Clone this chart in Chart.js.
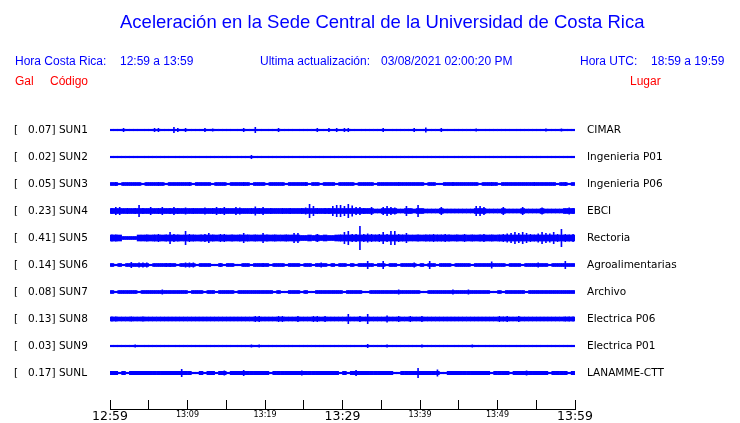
<!DOCTYPE html>
<html>
<head>
<meta charset="utf-8">
<script src="https://cdn.jsdelivr.net/npm/chart.js@4.4.1/dist/chart.umd.min.js"></script>
<style>
  body { margin: 0; background: #fff; }
  #wrap { position: relative; width: 740px; height: 423px; overflow: hidden; }
  #wrap canvas { position: absolute; left: 0; top: 0; }
  .t {
    position: absolute;
    font-family: 'Liberation Sans', Arial, sans-serif;
    font-size: 12px;
    line-height: 12px;
    color: #0000ff;
    white-space: pre;
  }
  .red { color: #ff0000; }
  #title { font-size: 18.5px; line-height: 18.5px; left: 120px; top: 13px; }
</style>
</head>
<body>
<div id="wrap">
  <canvas id="chart" width="740" height="423"></canvas>
  <div class="t" id="title">Aceleración en la Sede Central de la Universidad de Costa Rica</div>
  <div class="t" style="left:15px;top:55px">Hora Costa Rica:</div>
  <div class="t" style="left:120px;top:55px">12:59 a 13:59</div>
  <div class="t" style="left:260px;top:55px">Ultima actualización:</div>
  <div class="t" style="left:381px;top:55px">03/08/2021 02:00:20 PM</div>
  <div class="t" style="left:580px;top:55px">Hora UTC:</div>
  <div class="t" style="left:651px;top:55px">18:59 a 19:59</div>
  <div class="t red" style="left:15px;top:75px">Gal</div>
  <div class="t red" style="left:50px;top:75px">Código</div>
  <div class="t red" style="left:630px;top:75px">Lugar</div>
</div>
<script>
// peak acceleration (gal), station codes and places
const peaks = [0.07, 0.02, 0.05, 0.23, 0.41, 0.14, 0.08, 0.13, 0.03, 0.17];
const codes = ['SUN1', 'SUN2', 'SUN3', 'SUN4', 'SUN5', 'SUN6', 'SUN7', 'SUN8', 'SUN9', 'SUNL'];
const places = ['CIMAR', 'Ingenieria P01', 'Ingenieria P06', 'EBCI', 'Rectoria',
  'Agroalimentarias', 'Archivo', 'Electrica P06', 'Electrica P01', 'LANAMME-CTT'];
const timeLabels = ['12:59', '13:09', '13:19', '13:29', '13:39', '13:49', '13:59'];

// usual (background) half-height of each trace
const bandHalf = [0.75, 0.75, 1.5, 2.5, 3, 1.5, 1.5, 2, 0.75, 1.7];

// half-height of each trace for every 30 s window (12:59 -> 13:59)
const sun1 = [
  .75,.75,.75,2,.75,.75,.75,.75,.75,.75,.75,2,2,.75,.75,.75,3,2,.75,2,
  .75,.75,.75,.75,2,.75,1.5,.75,.75,.75,.75,.75,.75,.75,2,.75,.75,3,.75,.75,
  .75,.75,.75,2,.75,.75,.75,.75,.75,.75,.75,.75,.75,2,.75,.75,2,.75,2,.75,
  2,2,.75,.75,.75,.75,.75,.75,.75,.75,2,.75,.75,.75,.75,.75,.75,.75,2,.75,
  .75,2.5,.75,.75,.75,2,.75,.75,.75,.75,.75,.75,.75,.75,1.5,.75,.75,.75,.75,.75,
  .75,.75,.75,.75,.75,.75,.75,.75,.75,.75,.75,.75,1.5,.75,.75,.75,1.5,.75,.75,.75
];
const sun2 = [
  .75,.75,.75,.75,.75,.75,.75,.75,.75,.75,.75,.75,.75,.75,.75,.75,.75,.75,.75,.75,
  .75,.75,.75,.75,.75,.75,.75,.75,.75,.75,.75,.75,.75,.75,.75,.75,2,.75,.75,.75,
  .75,.75,.75,.75,.75,.75,.75,.75,.75,.75,.75,.75,.75,.75,.75,.75,.75,.75,.75,.75,
  .75,.75,.75,.75,.75,.75,.75,.75,.75,.75,.75,.75,.75,.75,.75,.75,.75,.75,.75,.75,
  .75,.75,.75,.75,.75,.75,.75,.75,.75,.75,.75,.75,.75,.75,.75,.75,.75,.75,.75,.75,
  .75,.75,.75,.75,.75,.75,.75,.75,.75,.75,.75,.75,.75,.75,.75,.75,.75,.75,.75,.75
];
const sun3 = [
  1.5,2,.75,1.5,1.5,1.5,1.5,1.5,.75,1.5,1.5,1.5,2,1.5,.75,1.5,1.5,1.5,1.5,1.5,
  2,.75,1.5,1.5,1.5,1.5,.75,1.5,1.5,1.5,.75,1.5,1.5,1.5,2,1.5,.75,1.5,1.5,1.5,
  .75,1.5,1.5,1.5,1.5,.75,1.5,1.5,1.5,1.5,2,.75,1.5,1.5,.75,1.5,1.5,1.5,.75,1.5,
  1.5,1.5,1.5,.75,1.5,1.5,1.5,1.5,.75,1.5,1.5,1.5,1.5,1.5,2,1.5,1.5,1.5,1.5,1.5,
  1.5,.75,1.5,1.5,.75,.75,1.5,1.5,2,1.5,1.5,1.5,1.5,1.5,1.5,.75,1.5,1.5,2,1.5,
  .75,1.5,1.5,1.5,1.5,1.5,1.5,1.5,1.5,2,1.5,1.5,1.5,1.5,1.5,.75,1.5,2,.75,1.5
];
const sun4 = [
  3,4,4,2.5,3,2.5,3,6,3,2.5,4,2.5,3,4,2.5,3,4,3,2.5,3.5,
  2.5,3,2.5,2.5,3.5,2.5,3,4,3,4,2.5,2.5,4,3.5,2.5,2.5,3,4.5,3,4,
  2.5,3,2.5,2.5,3,2.5,3,2.5,2.5,3,3.5,7,5,3,2.5,3,3,5,6,6,
  5,7,5.5,4,4,3,2.5,4,2,2,4,5,4,3.5,2,2,5,2.5,2,6,
  2.5,2,2,2,2,4,2,2,2,2,2,2,2,2,5,5,4,2,2,2,
  2,4,2,2,2,2,4,2,2,2,2,3.5,2,2,2,2,2,2.5,3.5,3
];
const sun5 = [
  3.5,3.5,3,1.5,1.5,1.5,1.5,3,3,3.5,3,3.5,4,3,3.5,6,4,3.5,3,7,
  4,3.5,3,3.5,4,5,3.5,3,4,4,3,3.5,3,3.5,5,3.5,3,3.5,3,5,
  3.5,3,3.5,3,3,3.5,3,5,5,2.5,2.5,3,2.5,4,2.5,3,2.5,2.5,3,3.5,
  6,7,4,4,12,4,4.5,4,3.5,4,6,4,7,7,4,3.5,5,3,3,3.5,
  3,3.5,3.5,4,3.5,3.5,4,3.5,3,3.5,3,4,3,3.5,3,3.5,4,3,3.5,3,
  3.5,4,4.5,5,6,5,6,5,4,3.5,4.5,6,5,4.5,6,4,9,4,3.5,4
];
const sun6 = [
  1.5,.75,1.5,.75,1.5,3,1.5,2.5,2.5,2.5,.75,1.5,1.5,1.5,2,2,1.5,.75,1.5,2.5,
  2.5,2.5,.75,1.5,1.5,1.5,.75,.75,2,.75,1.5,1.5,.75,.75,1.5,1.5,.75,1.5,1.5,2,
  1.5,.75,1.5,1.5,1.5,.75,1.5,1.5,1.5,.75,1.5,1.5,.75,1.5,2.5,1.5,.75,1.5,.75,1.5,
  1.5,.75,1.5,.75,1.5,1.5,4,1.5,.75,1.5,4,.75,1.5,1.5,.75,1.5,1.5,1.5,2.5,.75,
  1.5,.75,4,1.5,.75,1.5,1.5,1.5,.75,1.5,1.5,1.5,1.5,.75,1.5,1.5,1.5,1.5,3.5,1.5,
  1.5,1.5,.75,1.5,1.5,1.5,.75,1.5,1.5,1.5,2.5,1.5,1.5,.75,1.5,1.5,1.5,4,1.5,1.5
];
const sun7 = [
  1.5,.75,1.5,1.5,1.5,1.5,1.5,.75,1.5,1.5,1.5,1.5,1.5,2.5,1.5,1.5,1.5,1.5,1.5,1.5,
  .75,1.5,1.5,1.5,.75,1.5,1.5,.75,1.5,1.5,1.5,1.5,.75,1.5,1.5,1.5,1.5,1.5,1.5,1.5,
  1.5,1.5,.75,1.5,.75,.75,1.5,1.5,1.5,.75,1.5,.75,.75,1.5,1.5,1.5,1.5,1.5,1.5,1.5,
  .75,1.5,1.5,1.5,1.5,.75,.75,1.5,1.5,1.5,1.5,1.5,1.5,1.5,2.5,1.5,1.5,1.5,1.5,1.5,
  .75,.75,1.5,1.5,1.5,1.5,1.5,1.5,2.5,1.5,1.5,1.5,2.5,1.5,1.5,1.5,1.5,1.5,.75,.75,
  1.5,.75,1.5,1.5,1.5,1.5,1.5,.75,1.5,1.5,1.5,1.5,1.5,1.5,1.5,1.5,1.5,1.5,1.5,1.5
];
const sun8 = [
  2.5,2.5,2,2,2,2.5,2,2,2.5,2,2,2,2,2,2,2,2,2,2,2,
  2,2,2,2,2,2,2,2,2,2,2,2,2,2,2,2,2,3,3,2,
  2,2,2,3,3,2,2,2,3,2,2,2,3,3,2,3,2,2,2,2,
  2,5,2,2,3,2,5,2,2,2,2,3.5,2,2,3,2,2,3,2,2,
  3,2,2,2,2,2,2,2,2,2,2,2,2,2,2,2,2,2,2,2,
  3,2.5,3,2,2,3,2,2,2,2,2,2,2,2,2,2,2,2.5,2.5,2.5
];
const sun9 = [
  .75,.75,.75,.75,.75,.75,1.5,.75,.75,.75,.75,.75,.75,.75,.75,.75,.75,.75,.75,.75,
  .75,.75,.75,.75,.75,.75,.75,.75,.75,.75,.75,.75,.75,.75,.75,.75,1.5,.75,1.5,.75,
  .75,.75,.75,.75,.75,.75,.75,.75,.75,.75,.75,.75,.75,.75,.75,.75,.75,.75,.75,.75,
  .75,.75,.75,.75,.75,.75,2,.75,.75,.75,.75,1.5,.75,.75,.75,.75,.75,.75,.75,.75,
  1.5,.75,.75,.75,.75,.75,.75,.75,.75,.75,.75,.75,.75,1.5,.75,.75,.75,.75,.75,.75,
  .75,.75,.75,.75,.75,.75,.75,.75,.75,.75,.75,.75,.75,.75,.75,.75,.75,.75,.75,.75
];
const sunl = [
  1.7,1.7,.75,1.7,.75,1.7,1.7,1.7,1.7,1.7,1.7,1.7,1.7,1.7,1.7,1.7,1.7,1.7,4,1.7,
  1.7,.75,.75,1.7,.75,1.7,1.7,.75,1.7,2.5,.75,1.7,1.7,1.7,3,1.7,1.7,1.7,1.7,1.7,
  1.7,.75,1.7,1.7,1.7,1.7,1.7,1.7,1.7,2.5,1.7,1.7,1.7,1.7,1.7,1.7,1.7,1.7,1.7,.75,
  1.7,.75,1.7,3,1.7,1.7,1.7,1.7,1.7,1.7,1.7,1.7,1.7,.75,.75,1.7,1.7,1.7,1.7,5,
  1.7,1.7,1.7,1.7,3.5,.75,.75,1.7,1.7,1.7,1.7,1.7,1.7,1.7,1.7,1.7,1.7,1.7,.75,1.7,
  1.7,1.7,1.7,.75,1.7,1.7,1.7,2.5,1.7,1.7,1.7,1.7,1.7,.75,1.7,1.7,1.7,1.7,.75,1.7
];
const traces = [sun1, sun2, sun3, sun4, sun5, sun6, sun7, sun8, sun9, sunl];

// layout (pixel units on the y scale)
const PLOT_TOP = 116;
const PLOT_BOTTOM = 409;
const FIRST_TRACE = 130;
const TRACE_GAP = 27;
const SAMPLE_MIN = 0.5;
const BLUE = '#0000ff';

const baselines = codes.map((c, k) => FIRST_TRACE + TRACE_GAP * k);
const labelFont = { family: 'DejaVu Sans', size: 10.5 };

const barStyle = {
  backgroundColor: BLUE,
  borderWidth: 0,
  categoryPercentage: 1,
  grouped: false,
};

// continuous band of each trace (full width, capped at its usual level)
const bandSets = traces.map((amps, k) => ({
  ...barStyle,
  label: codes[k] + ' band',
  barPercentage: 1,
  data: amps.map((a, i) => {
    const h = Math.min(a, bandHalf[k]);
    return { x: (i + 0.5) * SAMPLE_MIN, y: [baselines[k] - h, baselines[k] + h] };
  }),
}));

// thin spikes with the full half-height of each window
const spikeSets = traces.map((amps, k) => ({
  ...barStyle,
  label: codes[k],
  barPercentage: 0.42,
  data: amps.map((a, i) => ({
    x: (i + 0.5) * SAMPLE_MIN,
    y: [baselines[k] - a, baselines[k] + a],
  })),
}));

const stationTicks = axis => {
  axis.ticks = baselines.map(v => ({ value: v }));
};

new Chart(document.getElementById('chart'), {
  type: 'bar',
  data: { datasets: [...bandSets, ...spikeSets] },
  options: {
    responsive: false,
    devicePixelRatio: 1,
    animation: false,
    events: [],
    layout: { padding: { left: 14, top: PLOT_TOP, right: 0, bottom: 0 } },
    plugins: {
      legend: { display: false },
      tooltip: { enabled: false },
    },
    scales: {
      x: {
        type: 'linear',
        min: 0,
        max: 60,
        offset: false,
        afterFit: axis => { axis.height = 423 - PLOT_BOTTOM; },
        grid: {
          offset: false,
          drawOnChartArea: false,
          drawTicks: true,
          tickLength: -9,
          color: '#000',
        },
        border: { display: true, color: '#000', width: 1 },
        ticks: {
          stepSize: 5,
          autoSkip: false,
          maxRotation: 0,
          minRotation: 0,
          padding: 9,
          color: '#000',
          font: ctx => (ctx.tick && ctx.tick.value % 30 === 0)
            ? { family: 'DejaVu Sans', size: 12.5, lineHeight: 1.2 }
            : { family: 'DejaVu Sans', size: 8, lineHeight: 1.45 },
          callback: v => (v % 10 === 0 ? timeLabels[v / 10] : ''),
        },
      },
      y: {
        type: 'linear',
        position: 'left',
        min: PLOT_TOP,
        max: PLOT_BOTTOM,
        reverse: true,
        beginAtZero: false,
        afterFit: axis => { axis.width = 96; },
        afterBuildTicks: stationTicks,
        grid: { display: false, drawTicks: false },
        border: { display: false },
        ticks: {
          autoSkip: false,
          crossAlign: 'far',
          padding: 0,
          color: '#000',
          font: labelFont,
          callback: (v, i) => `[${peaks[i].toFixed(2).padStart(7)}] ${codes[i]}`,
        },
      },
      y2: {
        type: 'linear',
        position: 'right',
        min: PLOT_TOP,
        max: PLOT_BOTTOM,
        reverse: true,
        beginAtZero: false,
        afterFit: axis => { axis.width = 165; },
        afterBuildTicks: stationTicks,
        // tick marks are hidden, their length only pushes the labels right
        grid: { display: false, drawTicks: true, tickLength: 12 },
        border: { display: false },
        ticks: {
          autoSkip: false,
          padding: 0,
          color: '#000',
          font: labelFont,
          callback: (v, i) => places[i],
        },
      },
    },
  },
});
</script>
</body>
</html>
